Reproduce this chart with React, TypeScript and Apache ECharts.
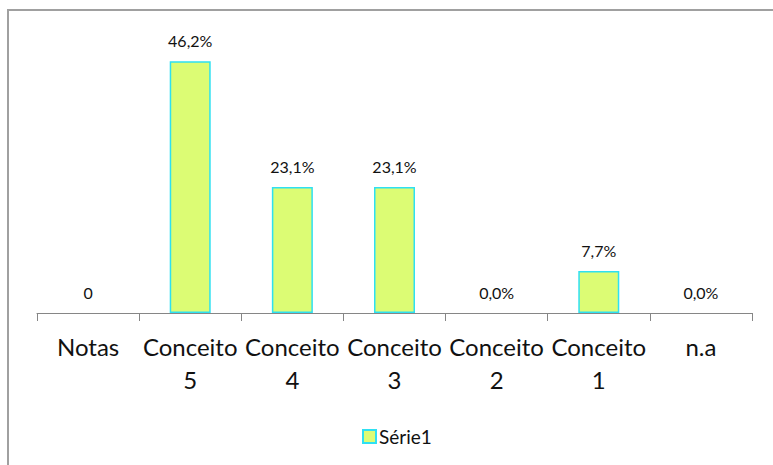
import React, { useEffect, useRef } from "react";
import * as echarts from "echarts";

const categories = ["Notas", "Conceito\n5", "Conceito\n4", "Conceito\n3", "Conceito\n2", "Conceito\n1", "n.a"];
const values = [0, 46.2, 23.1, 23.1, 0, 7.7, 0];
const valueLabels = ["0", "46,2%", "23,1%", "23,1%", "0,0%", "7,7%", "0,0%"];
const seriesName = "Série1";

const FONT = "Lato, 'Open Sans', sans-serif";

export default function App() {
  const ref = useRef<HTMLDivElement>(null);
  useEffect(() => {
    if (!ref.current) return;
    const chart = echarts.init(ref.current, null, { renderer: "svg" });
    chart.setOption({
      animation: false,
      backgroundColor: "#ffffff",
      textStyle: { fontFamily: FONT },
      grid: { left: 37, right: 21, top: 40.5, bottom: 152, containLabel: false },
      xAxis: {
        type: "category",
        data: categories,
        axisLine: { lineStyle: { color: "#868686", width: 1 } },
        axisTick: { show: true, length: 8, lineStyle: { color: "#868686" } },
        axisLabel: {
          color: "#111111",
          fontSize: 24,
          fontFamily: FONT,
          lineHeight: 33,
          margin: 16.5,
          interval: 0,
        },
      },
      yAxis: {
        type: "value",
        min: 0,
        max: 50,
        show: false,
        splitLine: { show: false },
      },
      legend: {
        show: true,
        left: 357,
        top: 422,
        itemWidth: 13,
        itemHeight: 13,
        itemGap: 4,
        icon: "rect",
        textStyle: { color: "#111111", fontSize: 19, fontFamily: FONT, padding: [0, 0, 0, -2] },
        data: [seriesName],
      },
      series: [
        {
          name: seriesName,
          type: "bar",
          data: values.map((v) =>
            v === 0
              ? { value: v, itemStyle: { color: "transparent", borderWidth: 0 } }
              : v
          ),
          barWidth: 41,
          itemStyle: { color: "#DCFC74", borderColor: "#2EE0F2", borderWidth: 1.5 },
          label: {
            show: true,
            position: "top",
            distance: 13,
            color: "#111111",
            fontSize: 16,
            fontFamily: FONT,
            formatter: (p: any) => valueLabels[p.dataIndex],
          },
        },
      ],
      graphic: [
        {
          type: "polyline",
          shape: { points: [[8, 465], [8, 10], [773, 10]] },
          style: { stroke: "#A0A0A0", lineWidth: 2, fill: "none" },
          silent: true,
        },
      ],
    });
    return () => chart.dispose();
  }, []);
  return (
    <div
      ref={ref}
      style={{ position: "absolute", left: 0, top: 0, width: 773, height: 465 }}
    />
  );
}
